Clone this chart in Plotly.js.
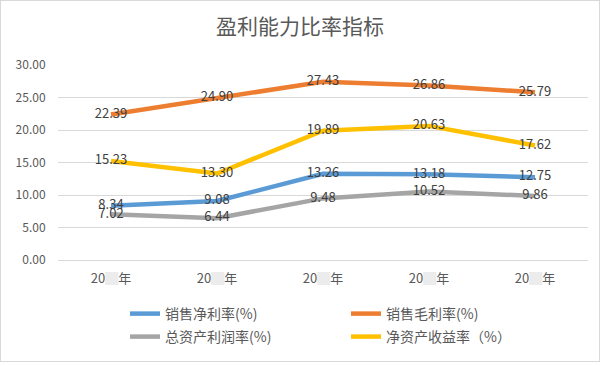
<!DOCTYPE html>
<html>
<head>
<meta charset="utf-8">
<script src="https://cdn.plot.ly/plotly-3.0.1.min.js"></script>
<style>
html,body{margin:0;padding:0;background:#fff;}
#wrap{position:absolute;left:0;top:0;width:598px;height:360px;border:1px solid #d9d9d9;}
#chart{width:598px;height:360px;}
</style>
</head>
<body>
<div id="wrap"><div id="chart"></div></div>
<script>
const categories = ["20<span style='color:#ececec'>█</span>年","20<span style='color:#ececec'>█</span>年","20<span style='color:#ececec'>█</span>年","20<span style='color:#ececec'>█</span>年","20<span style='color:#ececec'>█</span>年"];
const catKeys = ["y1","y2","y3","y4","y5"];
const netMargin = [8.34, 9.08, 13.26, 13.18, 12.75];
const grossMargin = [22.39, 24.90, 27.43, 26.86, 25.79];
const roa = [7.02, 6.44, 9.48, 10.52, 9.86];
const roe = [15.23, 13.30, 19.89, 20.63, 17.62];
const seriesNames = ["销售净利率(%)", "销售毛利率(%)", "总资产利润率(%)", "净资产收益率（%）"];
const yTicks = [0, 5, 10, 15, 20, 25, 30];

const colors = ["#5B9BD5", "#ED7D31", "#A5A5A5", "#FFC000"];
const allData = [netMargin, grossMargin, roa, roe];
const legends = ["legend", "legend", "legend2", "legend2"];
const font = "'Noto Sans CJK SC', 'Noto Sans', sans-serif";

const traces = allData.map((vals, i) => ({
  type: "scatter",
  mode: "lines+text",
  x: catKeys,
  y: vals,
  name: seriesNames[i],
  line: {color: colors[i], width: 4.5},
  text: vals.map(v => v.toFixed(2)),
  textposition: "middle center",
  textfont: {family: font, size: 13, color: "#404040"},
  legend: legends[i],
  hoverinfo: "skip"
}));

const layout = {
  width: 598, height: 360,
  margin: {l: 57, r: 11, t: 64, b: 101},
  paper_bgcolor: "#fff", plot_bgcolor: "#fff",
  title: {text: "盈利能力比率指标", font: {family: font, size: 21, color: "#595959"},
          x: 0.5, xref: "container", xanchor: "center", y: 1 - 26/360, yref: "container", yanchor: "middle"},
  xaxis: {
    type: "category", tickvals: catKeys, ticktext: categories,
    showgrid: false, zeroline: false, showline: false,
    ticks: "outside", ticklen: 6, tickcolor: "rgba(0,0,0,0)",
    tickfont: {family: font, size: 13, color: "#595959"},
    range: [-0.5, 4.5], fixedrange: true
  },
  yaxis: {
    range: [0, 30], tickvals: yTicks, ticktext: yTicks.map(v => v.toFixed(2)),
    showgrid: true, gridcolor: "#d9d9d9", gridwidth: 1,
    zeroline: true, zerolinecolor: "#d9d9d9", zerolinewidth: 1, showline: false,
    ticks: "outside", ticklen: 9, tickcolor: "rgba(0,0,0,0)",
    tickfont: {family: font, size: 12, color: "#595959"}, fixedrange: true
  },
  showlegend: true,
  legend: {orientation: "h", xref: "container", yref: "container", x: (124)/598, y: 1 - 313/360,
           xanchor: "left", yanchor: "middle", entrywidth: 176, entrywidthmode: "pixels",
           itemwidth: 30, font: {family: font, size: 14, color: "#595959"}, bgcolor: "rgba(0,0,0,0)"},
  legend2: {orientation: "h", xref: "container", yref: "container", x: (124)/598, y: 1 - 336/360,
           xanchor: "left", yanchor: "middle", entrywidth: 176, entrywidthmode: "pixels",
           itemwidth: 30, font: {family: font, size: 14, color: "#595959"}, bgcolor: "rgba(0,0,0,0)"}
};

Plotly.newPlot("chart", traces, layout, {displayModeBar: false, staticPlot: true});
</script>
</body>
</html>
